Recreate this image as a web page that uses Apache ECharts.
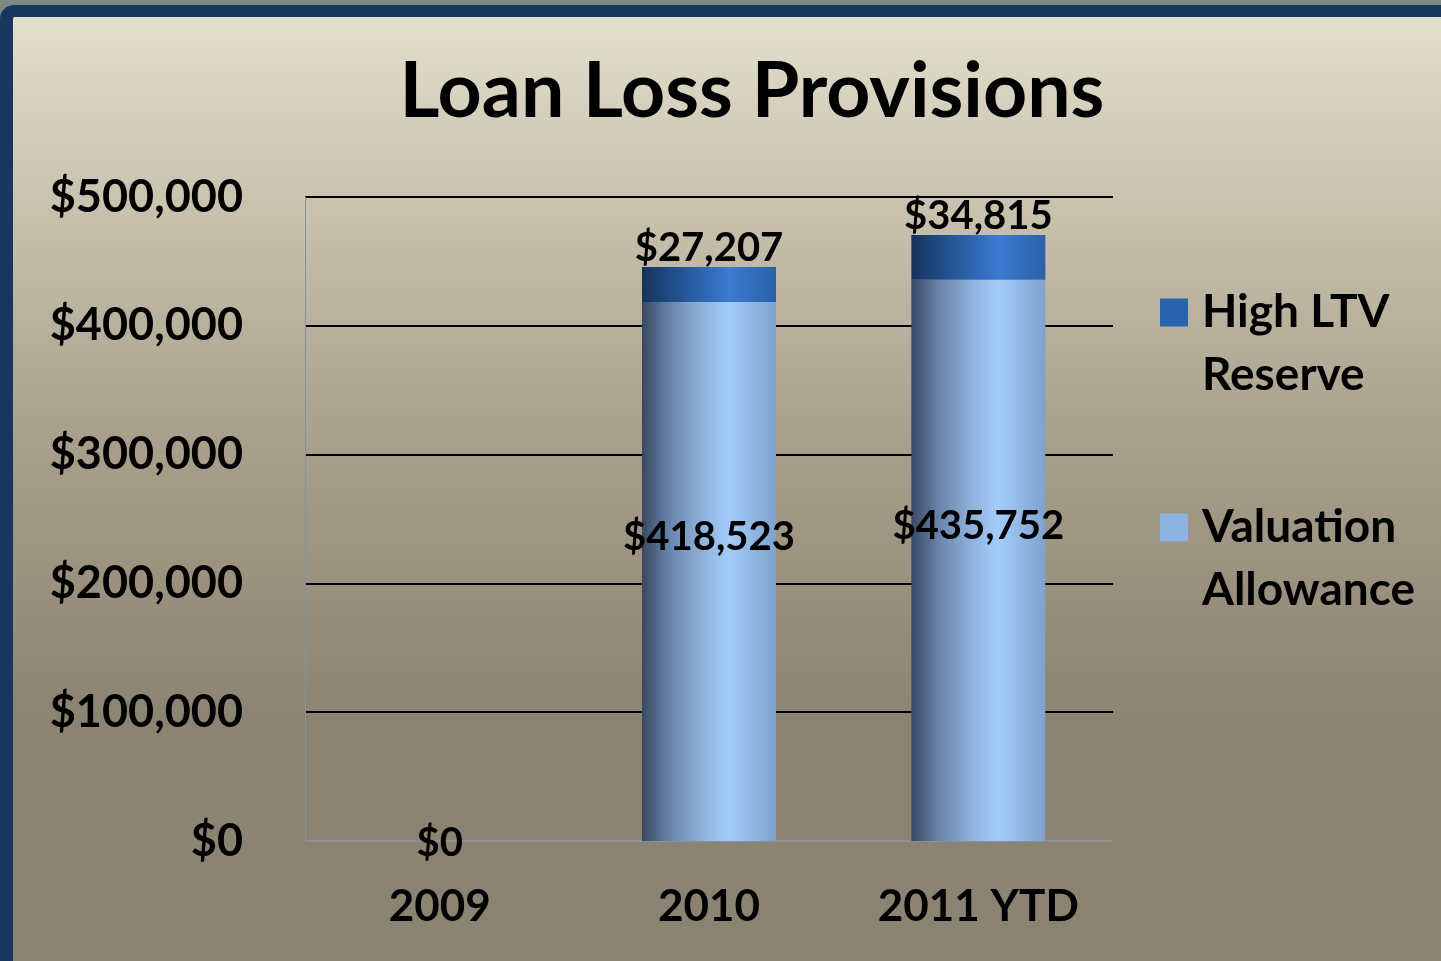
<!DOCTYPE html>
<html>
<head>
<meta charset="utf-8">
<title>Loan Loss Provisions</title>
<script src="https://cdn.jsdelivr.net/npm/echarts@6/dist/echarts.min.js"></script>
<style>
  html, body { margin: 0; padding: 0; width: 1441px; height: 961px; overflow: hidden; background: #7e8882; }
  .frame {
    position: absolute; left: 0; top: 5px; width: 1460px; height: 980px;
    border-top: 12px solid #17375e; border-left: 13px solid #17375e;
    border-top-left-radius: 14px;
    background: linear-gradient(to bottom, #e2dfcd 0px, #c9c3b0 180px, #a8a08c 420px, #8c8472 700px, #8b8371 980px);
  }
  #chart { position: absolute; left: 0; top: 0; width: 1441px; height: 961px; }
</style>
</head>
<body>
<div class="frame"></div>
<div id="chart"></div>
<script>
  const categories = ['2009', '2010', '2011 YTD']
  const valuationAllowance = [0, 418523, 435752]
  const highLtvReserve = [0, 27207, 34815]
  const yTicks = [0, 100000, 200000, 300000, 400000, 500000]

  const font = 'Lato, "Open Sans", sans-serif'
  const money = (v) => '$' + Number(v).toLocaleString('en-US')

  const chart = echarts.init(document.getElementById('chart'))

  const valuationFill = new echarts.graphic.LinearGradient(0, 0, 1, 0, [
    {offset: 0, color: '#384862'},
    {offset: 0.2, color: '#6883a9'},
    {offset: 0.45, color: '#8fb2dc'},
    {offset: 0.65, color: '#a3cbfb'},
    {offset: 1, color: '#7fa2cd'}
  ])
  const highLtvFill = new echarts.graphic.LinearGradient(0, 0, 1, 0, [
    {offset: 0, color: '#16325a'},
    {offset: 0.2, color: '#1f4a84'},
    {offset: 0.45, color: '#2d65b0'},
    {offset: 0.65, color: '#3b7bd2'},
    {offset: 1, color: '#2a60a8'}
  ])

  // legend names wrap onto two lines; the leading blank line keeps the icon level with the first line
  const legendText = {
    'High LTV Reserve': '\nHigh LTV\nReserve',
    'Valuation Allowance': '\nValuation\nAllowance'
  }

  const option = {
    animation: false,
    backgroundColor: 'transparent',
    title: {
      text: 'Loan Loss Provisions',
      left: 747,
      textAlign: 'center',
      top: 49,
      textStyle: {fontFamily: font, fontWeight: 'bold', fontSize: 77, color: '#000'}
    },
    legend: {
      orient: 'vertical',
      left: 1160,
      top: 218,
      padding: 0,
      icon: 'rect',
      itemWidth: 28,
      itemHeight: 28,
      itemGap: 26,
      selectedMode: false,
      data: [
        {name: 'High LTV Reserve', itemStyle: {color: '#2a63ad'}},
        {name: 'Valuation Allowance', itemStyle: {color: '#8db3e2'}}
      ],
      formatter: (name) => legendText[name],
      textStyle: {fontFamily: font, fontWeight: 'bold', fontSize: 46, lineHeight: 63, color: '#000', padding: [0, 0, 0, 9]}
    },
    grid: {left: 305, right: 328, top: 197, bottom: 120},
    xAxis: {
      type: 'category',
      data: categories,
      axisLine: {show: false},
      axisTick: {show: false},
      axisLabel: {fontFamily: font, fontWeight: 'bold', fontSize: 44, color: '#000', margin: 44}
    },
    yAxis: {
      type: 'value',
      min: yTicks[0],
      max: yTicks[yTicks.length - 1],
      interval: yTicks[1] - yTicks[0],
      axisLine: {show: true, lineStyle: {color: '#8c9099', width: 1}},
      axisTick: {show: false},
      splitLine: {lineStyle: {color: ['#8c9099', '#000', '#000', '#000', '#000', '#000'], width: 2}},
      axisLabel: {fontFamily: font, fontWeight: 'bold', fontSize: 45, color: '#000', margin: 62, padding: [7, 0, 0, 0], formatter: money}
    },
    series: [
      {
        name: 'Valuation Allowance',
        type: 'bar',
        stack: 'total',
        barWidth: 134,
        itemStyle: {color: valuationFill},
        label: {
          show: true,
          position: 'inside',
          offset: [0, -34],
          fontFamily: font, fontWeight: 'bold', fontSize: 40, color: '#000',
          formatter: (p) => money(p.value)
        },
        data: valuationAllowance.map(v => v === 0 ? {value: v, label: {offset: [0, 2]}} : v)
      },
      {
        name: 'High LTV Reserve',
        type: 'bar',
        stack: 'total',
        barWidth: 134,
        itemStyle: {color: highLtvFill},
        label: {
          show: true,
          position: 'top',
          distance: -1,
          fontFamily: font, fontWeight: 'bold', fontSize: 40, color: '#000',
          formatter: (p) => p.value > 0 ? money(p.value) : ''
        },
        data: highLtvReserve
      }
    ]
  }
  chart.setOption(option, true)
</script>
</body>
</html>
